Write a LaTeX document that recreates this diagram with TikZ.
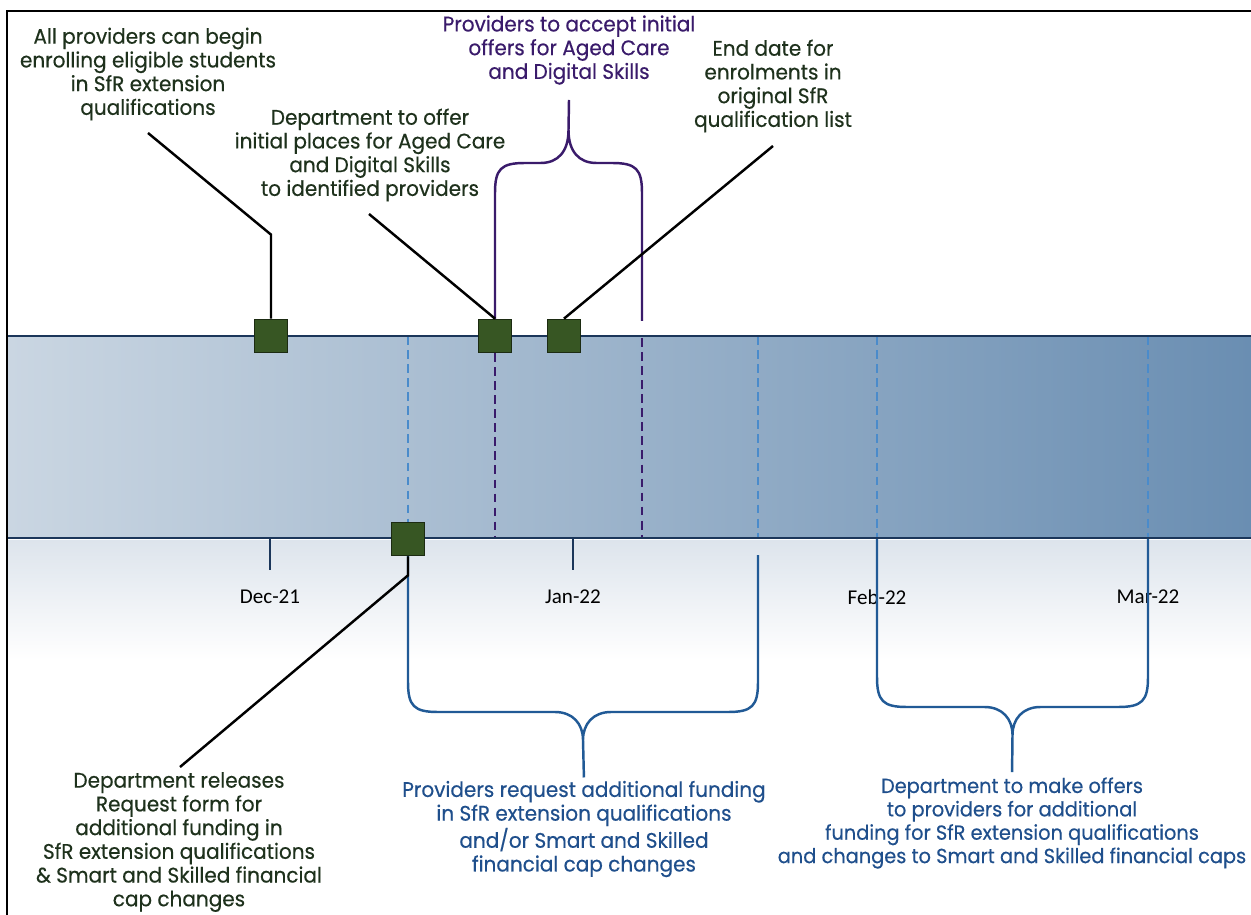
\documentclass[tikz,border=0pt]{standalone}
\usepackage{fontspec}
\setmainfont{Poppins}[FakeStretch=0.95,FakeBold=0.4]
\newfontfamily\tickFont{Carlito}
\usetikzlibrary{calc}
\definecolor{noteGreen}{HTML}{1E311C}
\definecolor{markGreen}{HTML}{375623}
\definecolor{markEdge}{HTML}{1C2B12}
\definecolor{offerPurple}{HTML}{3A1B6B}
\definecolor{fundBlue}{HTML}{1F4F8C}
\definecolor{braceBlue}{HTML}{215A96}
\definecolor{dashBlue}{HTML}{4A8BCB}
\definecolor{bandNavy}{HTML}{1B365A}
\definecolor{bandLight}{HTML}{CAD6E2}
\definecolor{bandDark}{HTML}{6A8EB2}
\definecolor{floorGrey}{HTML}{DDE4EC}
\newcommand{\drawBrace}[7]{%%
  %% #1 style, #2/#3 leg x, #4 leg end y, #5 bar y, #6 tip y, #7 tip name
  \pgfmathsetmacro{\midX}{(#2+#3)/2}%%
  \pgfmathsetmacro{\dirY}{sign(#5-#4)}%%
  \pgfmathsetmacro{\bendY}{#5-\dirY*30}%%
  \pgfmathsetmacro{\ctrlY}{#5-\dirY*6}%%
  \pgfmathsetmacro{\tipY}{#5+\dirY*12}%%
  \coordinate (#7) at (\midX,#6);%%
  \draw[#1] (#2,#4) -- (#2,\bendY)
    .. controls (#2,\ctrlY) and ({#2+6},#5) .. ({#2+30},#5)
    -- ({\midX-28},#5)
    .. controls ({\midX-10},#5) and (\midX,\tipY) .. (#7)
    .. controls (\midX,\tipY) and ({\midX+10},#5) .. ({\midX+28},#5)
    -- ({#3-30},#5)
    .. controls ({#3-6},#5) and (#3,\ctrlY) .. (#3,\bendY)
    -- (#3,#4);%%
}

\begin{document}
\begin{tikzpicture}[%%
  x=0.02cm,y=-0.02cm,%%
  noteStyle/.style={align=center,inner sep=0pt,font=\fontsize{12}{13.5}\selectfont},%%
  markStyle/.style={draw=markEdge,fill=markGreen,line width=1pt,minimum size=0.66cm,inner sep=0pt},%%
  leaderStyle/.style={line width=1.4pt,color=black},%%
  bandLine/.style={line width=1.7pt,color=bandNavy},%%
  tickLine/.style={line width=1.4pt,color=bandNavy},%%
  tickStyle/.style={font=\tickFont\fontsize{12}{14}\selectfont,inner sep=0pt},%%
  blueDash/.style={line width=1.3pt,color=dashBlue,dash pattern=on 5pt off 3pt},%%
  purpleDash/.style={line width=1.6pt,color=offerPurple,dash pattern=on 5pt off 3pt},%%
  purpleBrace/.style={line width=1.4pt,color=offerPurple},%%
  blueBrace/.style={line width=1.4pt,color=braceBlue}%%
]
\useasboundingbox (0,0) rectangle (1251,915);
%%
%% Frame and background.
\fill[white] (0,0) rectangle (1251,915);
\shade[top color=floorGrey,bottom color=white] (8,540) rectangle (1251,660);
\draw[line width=1.1pt] (7,915) -- (7,11) -- (1251,11);
%%
%% The time band.
\shade[left color=bandLight,right color=bandDark] (8,336) rectangle (1251,538);
\draw[blueDash] (408,336) -- (408,522);
\draw[blueDash] (758,336) -- (758,538);
\draw[blueDash] (877,336) -- (877,538);
\draw[blueDash] (1148,336) -- (1148,538);
\draw[purpleDash] (495,353) -- (495,538);
\draw[purpleDash] (642,338) -- (642,538);
\draw[bandLine] (8,336) -- (1251,336);
\draw[bandLine] (8,538) -- (1251,538);
%%
%% Months.
\draw[tickLine] (270,539) -- (270,570);
\draw[tickLine] (573,539) -- (573,570);
\node[tickStyle] (decLabel) at (270,597) {Dec-21};
\node[tickStyle] (janLabel) at (573,597) {Jan-22};
\node[tickStyle] (febLabel) at (877,597) {Feb-22};
\node[tickStyle] (marLabel) at (1148,597) {Mar-22};
%%
%% Braces.
\drawBrace{purpleBrace}{495}{642}{321}{163}{130}{acceptTip}
\drawBrace{blueBrace}{408}{758}{555}{712}{740}{requestTip}
\drawBrace{blueBrace}{877}{1148}{539}{707}{735}{offerTip}
%%
%% Notes.
\node[noteStyle,text=noteGreen] (enrolText) at (148,74)
  {All providers can begin\\enrolling eligible students\\in SfR extension\\qualifications};
\node[noteStyle,text=noteGreen] (placesText) at (370,155)
  {Department to offer\\initial places for Aged Care\\and Digital Skills\\to identified providers};
\node[noteStyle,text=offerPurple] (acceptText) at (569,50)
  {Providers to accept initial\\offers for Aged Care\\and Digital Skills};
\node[noteStyle,text=noteGreen] (endText) at (773,86)
  {End date for\\enrolments in\\original SfR\\qualification list};
\node[noteStyle,text=noteGreen] (releaseText) at (179,842)
  {Department releases\\Request form for\\additional funding in\\SfR extension qualifications\\\& Smart and Skilled financial\\cap changes};
\node[noteStyle,text=fundBlue] (requestText) at (584,829)
  {Providers request additional funding\\in SfR extension qualifications\\and/or Smart and Skilled\\financial cap changes};
\node[noteStyle,text=fundBlue,font=\fontsize{11.6}{13.3}\selectfont] (offerText) at (1012,823)
  {Department to make offers\\to providers for additional\\funding for SfR extension qualifications\\and changes to Smart and Skilled financial caps};
%%
%% Free ends of the leaders.
\coordinate (enrolEnd) at (148,133);
\coordinate (placesEnd) at (369,214);
\coordinate (listEnd) at (773,146);
\coordinate (releaseEnd) at (180,767);
\coordinate (acceptEnd) at (569,100);
%%
%% Markers on the band.
\node[markStyle] (enrolMark) at (271,336) {};
\node[markStyle] (placesMark) at (495,336) {};
\node[markStyle] (endMark) at (564,336) {};
\node[markStyle] (releaseMark) at (408,539) {};
%%
%% Leaders from markers to notes.
\draw[leaderStyle] (enrolMark.north) -- ++(0,-84) -- (enrolEnd);
\draw[leaderStyle] (placesMark.north) -- (placesEnd);
\draw[leaderStyle] (endMark.north) -- (listEnd);
\draw[leaderStyle] (releaseMark.south) -- ++(0,19) -- (releaseEnd);
\draw[purpleBrace] (acceptTip) -- (acceptEnd);
\draw[blueBrace,shorten >=0.06cm] (requestTip) -- (requestText.north);
\draw[blueBrace,shorten >=0.1cm] (offerTip) -- (offerText.north);
\end{tikzpicture}
\end{document}
